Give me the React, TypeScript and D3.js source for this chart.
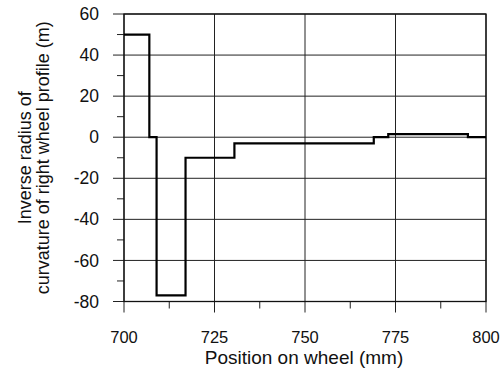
import React, { useEffect, useRef } from 'react'
import * as d3 from 'd3'

// step profile: value holds from position[i] until position[i+1]
const positions = [700, 707, 709, 717, 730.5, 769, 773, 795, 800]
const curvature = [50, 0, -77, -10, -3, 0, 1.5, 0, 0]

const xMajorTicks = [700, 725, 750, 775, 800]
const xMinorTicks = [712.5, 737.5, 762.5, 787.5]
const yMajorTicks = [60, 40, 20, 0, -20, -40, -60, -80]
const yMinorTicks = [50, 30, 10, -10, -30, -50, -70]

const W = 501
const H = 369

const App = () => {
  const svgRef = useRef<SVGSVGElement>(null)

  useEffect(() => {
    if (!svgRef.current) return
    const svg = d3.select(svgRef.current)
    svg.selectAll('*').remove()

    const left = 124, right = 486, top = 14, bottom = 301.5
    const x = d3.scaleLinear().domain([700, 800]).range([left, right])
    const y = d3.scaleLinear().domain([-80, 60]).range([bottom, top])

    const font = 'Liberation Sans, Arial, sans-serif'
    const gridColor = '#222'

    // horizontal grid + outward major ticks
    yMajorTicks.forEach(v => {
      svg.append('line')
        .attr('x1', left - 11).attr('x2', right)
        .attr('y1', y(v)).attr('y2', y(v))
        .style('stroke', gridColor).style('stroke-width', 1)
    })
    yMinorTicks.forEach(v => {
      svg.append('line')
        .attr('x1', left - 7).attr('x2', left)
        .attr('y1', y(v)).attr('y2', y(v))
        .style('stroke', gridColor).style('stroke-width', 1)
    })

    // vertical grid + outward major ticks
    xMajorTicks.forEach(v => {
      svg.append('line')
        .attr('x1', x(v)).attr('x2', x(v))
        .attr('y1', top).attr('y2', bottom + 11)
        .style('stroke', gridColor).style('stroke-width', 1)
    })
    xMinorTicks.forEach(v => {
      svg.append('line')
        .attr('x1', x(v)).attr('x2', x(v))
        .attr('y1', bottom).attr('y2', bottom + 7)
        .style('stroke', gridColor).style('stroke-width', 1)
    })

    // frame
    svg.append('rect')
      .attr('x', left).attr('y', top)
      .attr('width', right - left).attr('height', bottom - top)
      .style('fill', 'none').style('stroke', '#111').style('stroke-width', 1.3)

    // tick labels
    yMajorTicks.forEach(v => {
      svg.append('text')
        .attr('x', left - 25).attr('y', y(v))
        .attr('dy', '0.35em')
        .attr('text-anchor', 'end')
        .style('font-family', font).style('font-size', '17.5px').style('fill', '#111')
        .text(v)
    })
    xMajorTicks.forEach(v => {
      svg.append('text')
        .attr('x', x(v)).attr('y', 342.5)
        .attr('text-anchor', 'middle')
        .style('font-family', font).style('font-size', '16.5px').style('fill', '#111')
        .text(v)
    })

    // axis titles
    svg.append('text')
      .attr('x', (left + right) / 2 - 1).attr('y', 364)
      .attr('text-anchor', 'middle')
      .style('font-family', font).style('font-size', '19px').style('fill', '#111')
      .text('Position on wheel (mm)')

    const yTitle = svg.append('g').attr('transform', `translate(0,${(top + bottom) / 2}) rotate(-90)`)
    yTitle.append('text')
      .attr('x', 0).attr('y', 31)
      .attr('text-anchor', 'middle')
      .style('font-family', font).style('font-size', '18px').style('fill', '#111')
      .text('Inverse radius of')
    yTitle.append('text')
      .attr('x', 0).attr('y', 49)
      .attr('text-anchor', 'middle')
      .style('font-family', font).style('font-size', '18px').style('fill', '#111')
      .text('curvature of right wheel profile (m)')

    // step profile
    const line = d3.line<number>()
      .x((_, i) => x(positions[i]))
      .y(d => y(d))
      .curve(d3.curveStepAfter)

    svg.append('path')
      .attr('d', line(curvature))
      .style('fill', 'none')
      .style('stroke', '#000')
      .style('stroke-width', 2.2)
  }, [])

  return (
    <svg
      ref={svgRef}
      width={W}
      height={H}
      style={{ position: 'absolute', left: 0, top: 0, background: '#fff' }}
    />
  )
}

export default App
